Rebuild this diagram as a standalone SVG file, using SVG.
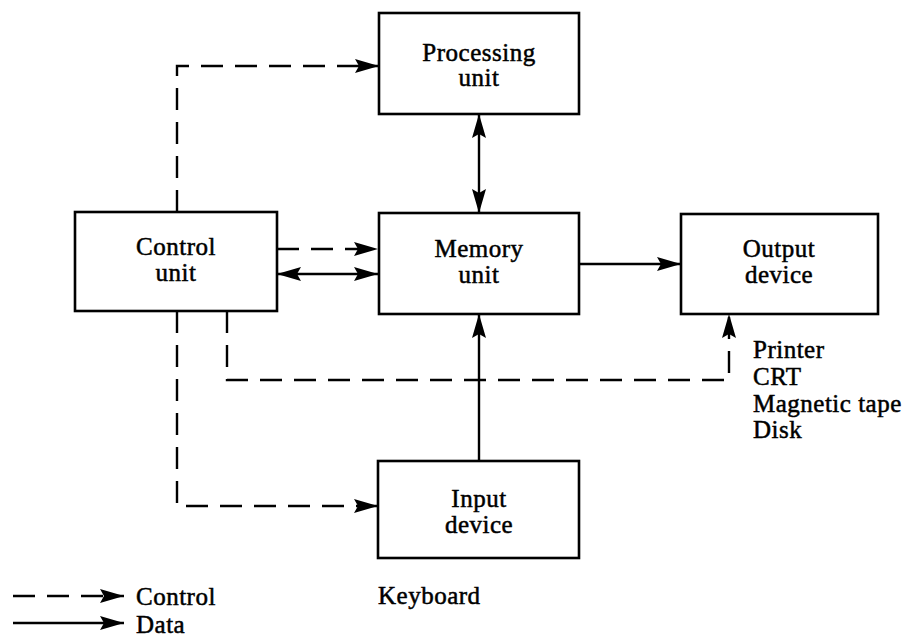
<svg xmlns="http://www.w3.org/2000/svg" width="910" height="640" viewBox="0 0 910 640">
  <style>
    .box { fill: #fff; stroke: #000; stroke-width: 2.6; }
    .lbl { font-family: "Liberation Serif", "Times New Roman", serif; font-size: 25px; letter-spacing: 0.5px; fill: #000; stroke: #000; stroke-width: 0.5; }
    .mid { text-anchor: middle; }
    .data { fill: none; stroke: #000; stroke-width: 2.4; }
    .ctrl { fill: none; stroke: #000; stroke-width: 2.4; stroke-dasharray: 22 12; }
  </style>
  <defs>
    <marker id="head" viewBox="0 0 24 16" refX="24" refY="8" markerWidth="24" markerHeight="16" markerUnits="userSpaceOnUse" orient="auto-start-reverse">
      <path d="M0,1 L24,8 L0,15 L4,8 Z" fill="#000"/>
    </marker>
  </defs>

  <rect width="910" height="640" fill="#fff"/>

  <!-- connectors -->
  <g id="connectors">
    <!-- control unit to processing unit -->
    <path class="ctrl" d="M177,212 V66 H379" marker-end="url(#head)"/>
    <!-- control unit to memory unit -->
    <path class="ctrl" d="M277,249 H378" marker-end="url(#head)"/>
    <!-- control unit <-> memory unit data -->
    <path class="data" d="M277,274 H378" marker-start="url(#head)" marker-end="url(#head)"/>
    <!-- processing unit <-> memory unit -->
    <path class="data" d="M479,114 V213" marker-start="url(#head)" marker-end="url(#head)"/>
    <!-- memory unit to output device -->
    <path class="data" d="M579,264 H681" marker-end="url(#head)"/>
    <!-- input device to memory unit -->
    <path class="data" d="M479,461 V314" marker-end="url(#head)"/>
    <!-- control unit to input device -->
    <path class="ctrl" d="M177,311 V506 H378" marker-end="url(#head)"/>
    <!-- control unit to output device -->
    <path class="ctrl" d="M227,311 V380 H729 V314" marker-end="url(#head)"/>
  </g>

  <g id="processing">
    <rect class="box" x="379" y="13" width="200" height="101"/>
    <text class="lbl mid" x="479" y="61">Processing</text>
    <text class="lbl mid" x="479" y="86">unit</text>
  </g>

  <g id="control">
    <rect class="box" x="75" y="212" width="202" height="99"/>
    <text class="lbl mid" x="176" y="255">Control</text>
    <text class="lbl mid" x="176" y="281">unit</text>
  </g>

  <g id="memory">
    <rect class="box" x="379" y="213" width="200" height="101"/>
    <text class="lbl mid" x="479" y="257">Memory</text>
    <text class="lbl mid" x="479" y="283">unit</text>
  </g>

  <g id="output">
    <rect class="box" x="681" y="214" width="197" height="100"/>
    <text class="lbl mid" x="779" y="257">Output</text>
    <text class="lbl mid" x="779" y="283">device</text>
  </g>

  <g id="input">
    <rect class="box" x="378" y="461" width="201" height="97"/>
    <text class="lbl mid" x="479" y="507">Input</text>
    <text class="lbl mid" x="479" y="533">device</text>
  </g>

  <g id="output-media">
    <text class="lbl" x="753" y="358">Printer</text>
    <text class="lbl" x="753" y="385">CRT</text>
    <text class="lbl" x="753" y="412">Magnetic tape</text>
    <text class="lbl" x="753" y="438">Disk</text>
  </g>

  <g id="input-media">
    <text class="lbl" x="378" y="604">Keyboard</text>
  </g>

  <g id="legend">
    <path class="ctrl" d="M13,596 H124" stroke-dasharray="20 9" marker-end="url(#head)"/>
    <text class="lbl" x="136" y="605">Control</text>
    <path class="data" d="M13,623 H124" marker-end="url(#head)"/>
    <text class="lbl" x="136" y="633">Data</text>
  </g>
</svg>
